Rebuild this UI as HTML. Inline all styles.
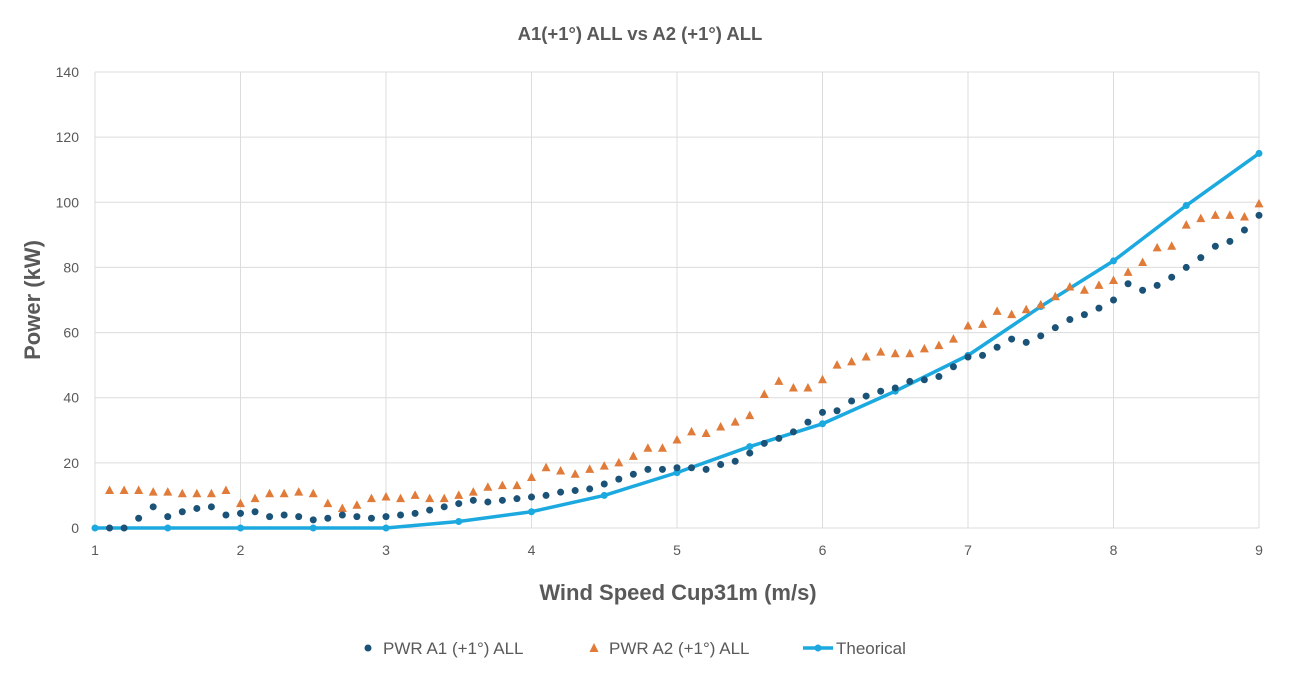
<!DOCTYPE html>
<html><head><meta charset="utf-8"><style>
html,body{margin:0;padding:0;background:#fff;}
svg{display:block;font-family:"Liberation Sans",Arial,sans-serif;}
</style></head><body>
<svg id="chart" width="1292" height="682" viewBox="0 0 1292 682"></svg>
<script>
const xTicks=[1,2,3,4,5,6,7,8,9];
const yTicks=[0,20,40,60,80,100,120,140];
const a1X=[];for(let i=11;i<=90;i++)a1X.push(i/10);
const a1Y=[0,0,3,6.5,3.5,5,6,6.5,4,4.5,5,3.5,4,3.5,2.5,3,4,3.5,3,3.5,4,4.5,5.5,6.5,7.5,8.5,8,8.5,9,9.5,10,11,11.5,12,13.5,15,16.5,18,18,18.5,18.5,18,19.5,20.5,23,26,27.5,29.5,32.5,35.5,36,39,40.5,42,43,45,45.5,46.5,49.5,52.5,53,55.5,58,57,59,61.5,64,65.5,67.5,70,75,73,74.5,77,80,83,86.5,88,91.5,96];
const a2Y=[11.5,11.5,11.5,11,11,10.5,10.5,10.5,11.5,7.5,9,10.5,10.5,11,10.5,7.5,6,7,9,9.5,9,10,9,9,10,11,12.5,13,13,15.5,18.5,17.5,16.5,18,19,20,22,24.5,24.5,27,29.5,29,31,32.5,34.5,41,45,43,43,45.5,50,51,52.5,54,53.5,53.5,55,56,58,62,62.5,66.5,65.5,67,68.5,71,74,73,74.5,76,78.5,81.5,86,86.5,93,95,96,96,95.5,99.5];
const thX=[1,1.5,2,2.5,3,3.5,4,4.5,5,5.5,6,6.5,7,7.5,8,8.5,9];
const thY=[0,0,0,0,0,2,5,10,17,25,32,42,53,68,82,99,115];
const L=95,R=1259,T=72,B=528;
const sx=v=>L+(v-1)/(8)*(R-L);
const sy=v=>B-v/140*(B-T);
const svg=document.getElementById('chart');
const NS='http://www.w3.org/2000/svg';
function mk(tag,attrs,parent){const e=document.createElementNS(NS,tag);for(const k in attrs)e.setAttribute(k,attrs[k]);(parent||svg).appendChild(e);return e;}
const grid=mk('g',{});


yTicks.forEach(v=>{
  const l=mk('line',{x1:L,x2:R,y1:sy(v),y2:sy(v),stroke:'#dcdcdc','stroke-width':1},grid);
  
  
  const t=mk('text',{x:L-16,y:sy(v)+5,'text-anchor':'end','font-size':14,fill:'#595959'});
  t.textContent=v;
  
  
});
xTicks.forEach(v=>{
  const l=mk('line',{x1:sx(v),x2:sx(v),y1:T,y2:B,stroke:'#dcdcdc','stroke-width':1},grid);
  
  
  const t=mk('text',{x:sx(v),y:B+27,'text-anchor':'middle','font-size':14,fill:'#595959'});
  t.textContent=v;
  
  
});
const title=mk('text',{x:640,y:40,'text-anchor':'middle','font-size':18.5,'font-weight':'bold',fill:'#595959'});
title.textContent='A1(+1°) ALL vs A2 (+1°) ALL';


const xt=mk('text',{x:678,y:600,'text-anchor':'middle','font-size':22,'font-weight':'bold',fill:'#595959'});
xt.textContent='Wind Speed Cup31m (m/s)';


const yt=mk('text',{x:0,y:0,'text-anchor':'middle','font-size':22,'font-weight':'bold',fill:'#595959',transform:'translate(40,300) rotate(-90)'});
yt.textContent='Power (kW)';


const pts=thX.map((x,i)=>sx(x)+','+sy(thY[i])).join(' ');
const pl=mk('polyline',{points:pts,fill:'none',stroke:'#1ba9df','stroke-width':3.5,'stroke-linejoin':'round'});


thX.forEach((x,i)=>{
  const c=mk('circle',{cx:sx(x),cy:sy(thY[i]),r:3.5,fill:'#1ba9df'});
  
  
});
a2Y.forEach((y,i)=>{
  const cx=sx(a1X[i]),cy=sy(y);
  const p=mk('polygon',{points:`${cx},${cy-5} ${cx-4.5},${cy+3.5} ${cx+4.5},${cy+3.5}`,fill:'#e07b39'});
  
  
});
a1Y.forEach((y,i)=>{
  const c=mk('circle',{cx:sx(a1X[i]),cy:sy(y),r:3.5,fill:'#1b5277'});
  
  
});
const lg=mk('g',{});


const c1=mk('circle',{cx:368,cy:648,r:3.5,fill:'#1b5277'},lg);


const t1=mk('text',{x:383,y:654,'font-size':17,fill:'#595959'},lg);
t1.textContent='PWR A1 (+1°) ALL';


const p2=mk('polygon',{points:'594,643 589.5,652 598.5,652',fill:'#e07b39'},lg);


const t2=mk('text',{x:609,y:654,'font-size':17,fill:'#595959'},lg);
t2.textContent='PWR A2 (+1°)  ALL';


const l3=mk('line',{x1:803,x2:833,y1:648,y2:648,stroke:'#1ba9df','stroke-width':3.5},lg);


const c3=mk('circle',{cx:818,cy:648,r:3.5,fill:'#1ba9df'},lg);


const t3=mk('text',{x:836,y:654,'font-size':17,fill:'#595959'},lg);
t3.textContent='Theorical';


</script>
</body></html>
